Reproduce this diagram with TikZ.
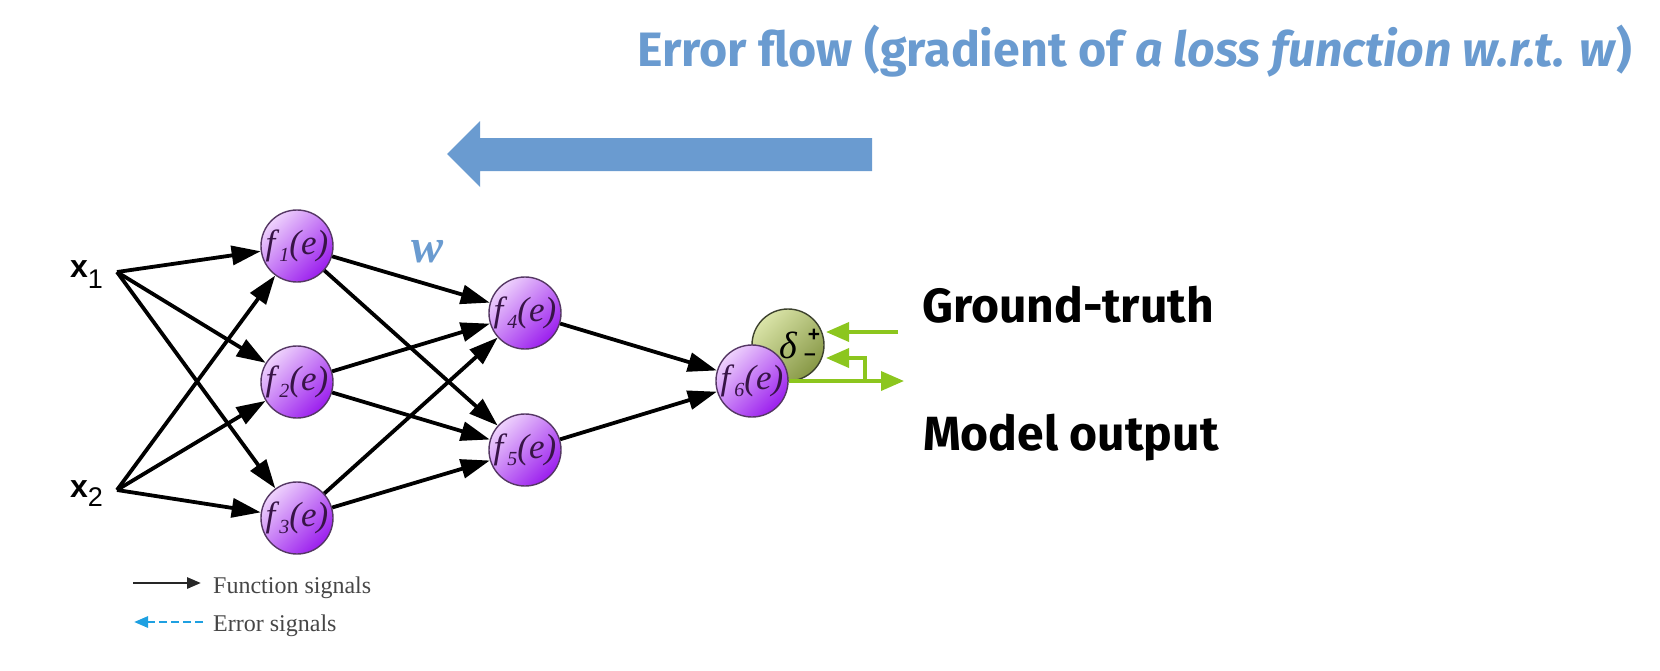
\documentclass[tikz,border=0pt]{standalone}
\usepackage{fontspec}
\newfontfamily\fira{Fira Sans}
\newfontfamily\libsans{Liberation Sans}
\newfontfamily\libserif{Liberation Serif}
\usetikzlibrary{arrows.meta}
\definecolor{errblue}{RGB}{106,155,208}
\definecolor{ptop}{RGB}{238,210,252}
\definecolor{pbot}{RGB}{155,30,238}
\definecolor{pborder}{RGB}{85,55,100}
\definecolor{ftext}{RGB}{55,20,70}
\definecolor{otop}{RGB}{218,228,168}
\definecolor{obot}{RGB}{135,152,70}
\definecolor{oborder}{RGB}{60,65,45}
\definecolor{sgreen}{RGB}{140,198,30}
\definecolor{legcyan}{RGB}{30,160,225}
\definecolor{leggray}{RGB}{70,70,70}
\newcommand{\fsub}[1]{\textit{f}\raisebox{-7pt}{\fontsize{20}{20}\selectfont\itshape #1}\textit{(e)}}
\tikzset{
  neuron/.style={circle, draw=pborder, line width=1.4pt, minimum size=72pt, inner sep=0pt,
    shading=axis, top color=ptop, bottom color=pbot, shading angle=45,
    text=ftext, font=\libserif\fontsize{35}{35}\selectfont},
  deltanode/.style={circle, draw=oborder, line width=1.4pt, minimum size=72pt, inner sep=0pt,
    shading=axis, top color=otop, bottom color=obot, shading angle=45},
  sig/.style={-{Triangle[length=29pt,width=19pt]}, line width=3.8pt, black},
  garrow/.style={-{Triangle[length=23pt,width=19pt]}, line width=3.6pt, sgreen},
  inlabel/.style={anchor=base west, inner sep=0pt, font=\libsans\fontsize{32}{32}\selectfont},
  bigtext/.style={anchor=base west, inner sep=0pt, font=\fira\bfseries\fontsize{48}{48}\selectfont},
  legtext/.style={anchor=base west, inner sep=0pt, text=leggray, font=\libserif\fontsize{24}{24}\selectfont},
}
\begin{document}
\begin{tikzpicture}[x=1pt,y=-1pt]
\useasboundingbox (0,0) rectangle (1660,670);

% title
\node[bigtext, text=errblue, font=\fira\bfseries\fontsize{48.3}{48.3}\selectfont] (title) at (637,66)
  {Error flow (gradient of \textit{a loss function w.r.t. w})};

% big arrow
\fill[errblue] (447,154) -- (480,121) -- (480,138) -- (872,138) -- (872,171) -- (480,171) -- (480,187) -- cycle;

% inputs
\node[inlabel] (x1) at (70,277) {\textbf{x}\raisebox{-11pt}{\fontsize{27}{27}\selectfont 1}};
\node[inlabel] (x2) at (70,497) {\textbf{x}\raisebox{-9pt}{\fontsize{27}{27}\selectfont 2}};
\coordinate (i1) at (117,272);
\coordinate (i2) at (117,490);

% delta comparator (behind f6)
\node[deltanode] (delta) at (788,345) {};
\node[inner sep=0pt, font=\libserif\itshape\fontsize{38}{38}\selectfont] (dsym) at (788,345) {δ};
\node[inner sep=0pt, font=\libsans\bfseries\fontsize{21}{21}\selectfont] (dplus) at (814,335) {+};
\node[inner sep=0pt, font=\libsans\bfseries\fontsize{21}{21}\selectfont] (dminus) at (810,357) {–};

% neurons
\node[neuron] (f1) at (297,246) {\fsub{1}};
\node[neuron] (f2) at (297,382) {\fsub{2}};
\node[neuron] (f3) at (297,518) {\fsub{3}};
\node[neuron] (f4) at (525,313) {\fsub{4}};
\node[neuron] (f5) at (525,450) {\fsub{5}};
\node[neuron] (f6) at (752,381) {\fsub{6}};

% weight label
\node[anchor=base, text=errblue, inner sep=0pt, font=\libserif\bfseries\itshape\fontsize{48}{48}\selectfont] (w) at (428,262) {w};

% function signals
\foreach \s in {i1,i2}{
  \foreach \t in {f1,f2,f3}{
    \draw[sig] (\s) -- (\t);
  }
}
\foreach \s in {f1,f2,f3}{
  \foreach \t in {f4,f5}{
    \draw[sig] (\s) -- (\t);
  }
}
\draw[sig] (f4) -- (f6);
\draw[sig] (f5) -- (f6);

% green signals
\coordinate (gtA) at (898,332);
\coordinate (gtB) at (826,332);
\coordinate (jn) at (865,381);
\coordinate (moB) at (826,358);
\coordinate (outB) at (904,381);
\draw[garrow] (gtA) -- (gtB);
\draw[garrow] (f6.east) -- (outB);
\draw[garrow] (jn) |- (moB);

% side labels
\node[bigtext] (gt) at (922,322) {Ground-truth};
\node[bigtext] (mo) at (923,450) {Model output};

% legend
\coordinate (la1) at (133,583);
\coordinate (la2) at (201,583);
\coordinate (lb1) at (203,622);
\coordinate (lb2) at (134,622);
\draw[-{Triangle[length=14pt,width=11pt]}, line width=2.8pt, black!85] (la1) -- (la2);
\draw[-{Triangle[length=14pt,width=11pt]}, line width=2.8pt, legcyan, dash pattern=on 8pt off 4pt] (lb1) -- (lb2);
\node[legtext] (lt1) at (213,593) {Function signals};
\node[legtext] (lt2) at (213,631) {Error signals};
\end{tikzpicture}
\end{document}
